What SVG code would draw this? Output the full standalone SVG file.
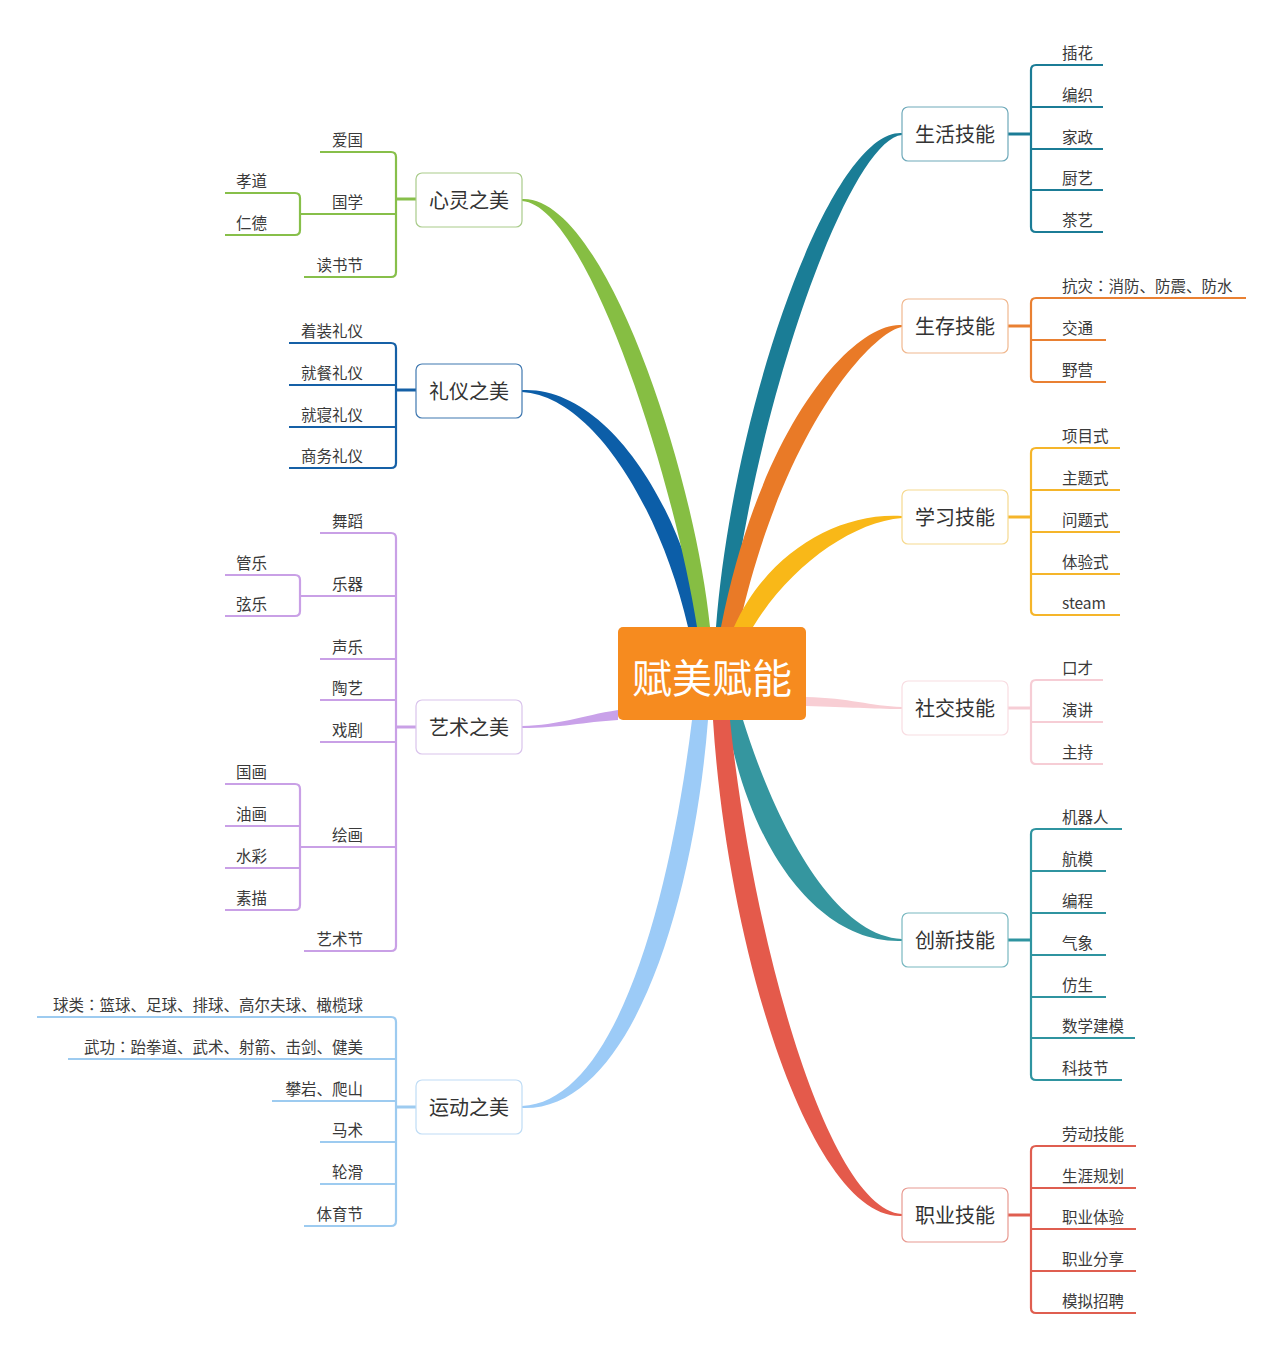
<svg xmlns="http://www.w3.org/2000/svg" width="1280" height="1348" viewBox="0 0 1280 1348">
<style>
.it{font-family:"Noto Sans CJK SC","Noto Sans",sans-serif;font-size:15.5px;fill:#3a3a3a}
.l{text-anchor:end}
.c{font-family:"Noto Sans CJK JP",sans-serif}
.nt{font-family:"Noto Sans CJK SC","Noto Sans",sans-serif;font-size:20px;fill:#333;text-anchor:middle}
.nb{fill:#fff;stroke-width:1.2}
.br{fill:none;stroke-width:2.2;stroke-linecap:butt}
.st{fill:none;stroke-width:3}
</style>
<rect width="1280" height="1348" fill="#fff"/>
<g id="connectors">
  <!-- main branches -->
  <path fill="#0C5EA8" d="M522 390 C604 386 680 500 704 627 L688 627 C660 506 592 396 522 392 Z"/>
  <path fill="#86BE43" d="M522 199 C604 195 694 470 710 627 L697 627 C672 470 586 205 522 201 Z"/>
  <path fill="#1A7D96" d="M902 133 C832 129 734 400 716 627 L730 627 C756 400 850 139 902 135 Z"/>
  <path fill="#E97A27" d="M902 325 C856 321 762 420 721 627 L739 627 C784 425 874 331 902 327 Z"/>
  <path fill="#F9B818" d="M902 516 C836 512 766 555 734 627 L753 627 C790 566 852 522 902 518 Z"/>
  <path fill="#F8CED4" d="M806 697 C850 698 870 706 902 707 L902 709 C870 709 850 707 806 706 Z"/>
  <path fill="#C9A1E9" d="M618 710 C580 716 560 725 522 726 L522 728 C560 728 584 722 618 720 Z"/>
  <path fill="#9CCBF7" d="M692 720 C670 900 616 1102 522 1106 L522 1108 C632 1112 694 900 708 720 Z"/>
  <path fill="#35969F" d="M743 720 C776 826 834 936 902 939 L902 941 C816 944 748 844 727 720 Z"/>
  <path fill="#E45A4B" d="M730 720 C754 950 830 1210 902 1214 L902 1216 C812 1220 728 955 713 720 Z"/>

  <!-- 心灵之美 brackets -->
  <g stroke="#87BF4A">
    <path class="br" d="M320 152 H391 Q396 152 396 157 V272 Q396 277 391 277 H304"/>
    <path class="br" d="M300 214 H396"/>
    <path class="br" d="M225 193 H295 Q300 193 300 198 V230 Q300 235 295 235 H225"/>
    <path class="st" d="M396 199 H416"/>
  </g>
  <!-- 礼仪之美 -->
  <g stroke="#1560A6">
    <path class="br" d="M289 343 H391 Q396 343 396 348 V463 Q396 468 391 468 H289"/>
    <path class="br" d="M289 385 H396 M289 427 H396"/>
    <path class="st" d="M396 390 H416"/>
  </g>
  <!-- 艺术之美 -->
  <g stroke="#C9A0E6">
    <path class="br" d="M320 533 H391 Q396 533 396 538 V946 Q396 951 391 951 H304"/>
    <path class="br" d="M300 596 H396 M320 659 H396 M320 700 H396 M320 742 H396 M300 847 H396"/>
    <path class="br" d="M225 575 H295 Q300 575 300 580 V611 Q300 616 295 616 H225"/>
    <path class="br" d="M225 784 H295 Q300 784 300 789 V905 Q300 910 295 910 H225 M225 826 H300 M225 868 H300"/>
    <path class="st" d="M396 727 H416"/>
  </g>
  <!-- 运动之美 -->
  <g stroke="#9DCBF0">
    <path class="br" d="M37 1017 H391 Q396 1017 396 1022 V1221 Q396 1226 391 1226 H304"/>
    <path class="br" d="M68 1059 H396 M272 1101 H396 M320 1142 H396 M320 1184 H396"/>
    <path class="st" d="M396 1107 H416"/>
  </g>
  <!-- 生活技能 -->
  <g stroke="#1B7C96">
    <path class="br" d="M1103 65 H1036 Q1031 65 1031 70 V227 Q1031 232 1036 232 H1103"/>
    <path class="br" d="M1031 107 H1103 M1031 149 H1103 M1031 190 H1103"/>
    <path class="st" d="M1008 134 H1031"/>
  </g>
  <!-- 生存技能 -->
  <g stroke="#E98032">
    <path class="br" d="M1246 298 H1036 Q1031 298 1031 303 V377 Q1031 382 1036 382 H1106"/>
    <path class="br" d="M1031 340 H1106"/>
    <path class="st" d="M1008 326 H1031"/>
  </g>
  <!-- 学习技能 -->
  <g stroke="#F5B52A">
    <path class="br" d="M1120 448 H1036 Q1031 448 1031 453 V610 Q1031 615 1036 615 H1120"/>
    <path class="br" d="M1031 490 H1120 M1031 532 H1120 M1031 574 H1120"/>
    <path class="st" d="M1008 517 H1031"/>
  </g>
  <!-- 社交技能 -->
  <g stroke="#F6CDD5">
    <path class="br" d="M1103 680 H1036 Q1031 680 1031 685 V759 Q1031 764 1036 764 H1103"/>
    <path class="br" d="M1031 722 H1103"/>
    <path class="st" d="M1008 708 H1031"/>
  </g>
  <!-- 创新技能 -->
  <g stroke="#2F94A0">
    <path class="br" d="M1122 829 H1036 Q1031 829 1031 834 V1075 Q1031 1080 1036 1080 H1122"/>
    <path class="br" d="M1031 871 H1106 M1031 913 H1106 M1031 955 H1106 M1031 997 H1106 M1031 1038 H1135"/>
    <path class="st" d="M1008 940 H1031"/>
  </g>
  <!-- 职业技能 -->
  <g stroke="#DF5E50">
    <path class="br" d="M1136 1146 H1036 Q1031 1146 1031 1151 V1308 Q1031 1313 1036 1313 H1136"/>
    <path class="br" d="M1031 1188 H1136 M1031 1229 H1136 M1031 1271 H1136"/>
    <path class="st" d="M1008 1215 H1031"/>
  </g>
</g>

<!-- center -->
<g id="center">
  <rect x="618" y="627" width="188" height="93" rx="5" fill="#F68B1F"/>
  <text x="712" y="693" font-family="'Noto Sans CJK SC','Noto Sans',sans-serif" font-size="40" fill="#fff" text-anchor="middle">赋美赋能</text>
</g>

<!-- main topic nodes -->
<g id="n-xinling"><rect class="nb" x="416" y="173" width="106" height="54" rx="6" stroke="#A9CB8A"/><text class="nt" x="469" y="207.5">心灵之美</text></g>
<g id="n-liyi"><rect class="nb" x="416" y="364" width="106" height="54" rx="6" stroke="#3F78B0"/><text class="nt" x="469" y="398.5">礼仪之美</text></g>
<g id="n-yishu"><rect class="nb" x="416" y="700" width="106" height="54" rx="6" stroke="#D9C3EC"/><text class="nt" x="469" y="734.5">艺术之美</text></g>
<g id="n-yundong"><rect class="nb" x="416" y="1080" width="106" height="54" rx="6" stroke="#BFDCF5"/><text class="nt" x="469" y="1114.5">运动之美</text></g>
<g id="n-shenghuo"><rect class="nb" x="902" y="107" width="106" height="54" rx="6" stroke="#6EA9BA"/><text class="nt" x="955" y="141.5">生活技能</text></g>
<g id="n-shengcun"><rect class="nb" x="902" y="299" width="106" height="54" rx="6" stroke="#F0B88F"/><text class="nt" x="955" y="333.5">生存技能</text></g>
<g id="n-xuexi"><rect class="nb" x="902" y="490" width="106" height="54" rx="6" stroke="#F6D98F"/><text class="nt" x="955" y="524.5">学习技能</text></g>
<g id="n-shejiao"><rect class="nb" x="902" y="681" width="106" height="54" rx="6" stroke="#F8DDE2"/><text class="nt" x="955" y="715.5">社交技能</text></g>
<g id="n-chuangxin"><rect class="nb" x="902" y="913" width="106" height="54" rx="6" stroke="#79B8C0"/><text class="nt" x="955" y="947.5">创新技能</text></g>
<g id="n-zhiye"><rect class="nb" x="902" y="1188" width="106" height="54" rx="6" stroke="#E89A91"/><text class="nt" x="955" y="1222.5">职业技能</text></g>

<!-- 心灵之美 items -->
<g id="i-aiguo"><text class="it l" x="363" y="146">爱国</text></g>
<g id="i-guoxue"><text class="it l" x="363" y="208">国学</text></g>
<g id="i-dushujie"><text class="it l" x="363" y="271">读书节</text></g>
<g id="i-xiaodao"><text class="it l" x="267" y="187">孝道</text></g>
<g id="i-rende"><text class="it l" x="267" y="229">仁德</text></g>
<!-- 礼仪之美 items -->
<g id="i-zhuozhuang"><text class="it l" x="363" y="337">着装礼仪</text></g>
<g id="i-jiucan"><text class="it l" x="363" y="379">就餐礼仪</text></g>
<g id="i-jiuqin"><text class="it l" x="363" y="421">就寝礼仪</text></g>
<g id="i-shangwu"><text class="it l" x="363" y="462">商务礼仪</text></g>
<!-- 艺术之美 items -->
<g id="i-wudao"><text class="it l" x="363" y="527">舞蹈</text></g>
<g id="i-yueqi"><text class="it l" x="363" y="590">乐器</text></g>
<g id="i-guanyue"><text class="it l" x="267" y="569">管乐</text></g>
<g id="i-xianyue"><text class="it l" x="267" y="610">弦乐</text></g>
<g id="i-shengyue"><text class="it l" x="363" y="653">声乐</text></g>
<g id="i-taoyi"><text class="it l" x="363" y="694">陶艺</text></g>
<g id="i-xiju"><text class="it l" x="363" y="736">戏剧</text></g>
<g id="i-huihua"><text class="it l" x="363" y="841">绘画</text></g>
<g id="i-guohua"><text class="it l" x="267" y="778">国画</text></g>
<g id="i-youhua"><text class="it l" x="267" y="820">油画</text></g>
<g id="i-shuicai"><text class="it l" x="267" y="862">水彩</text></g>
<g id="i-sumiao"><text class="it l" x="267" y="904">素描</text></g>
<g id="i-yishujie"><text class="it l" x="363" y="945">艺术节</text></g>
<!-- 运动之美 items -->
<g id="i-qiulei"><text class="it l" x="363" y="1011">球类<tspan class="c">：</tspan>篮球、足球、排球、高尔夫球、橄榄球</text></g>
<g id="i-wugong"><text class="it l" x="363" y="1053">武功<tspan class="c">：</tspan>跆拳道、武术、射箭、击剑、健美</text></g>
<g id="i-panyan"><text class="it l" x="363" y="1095">攀岩、爬山</text></g>
<g id="i-mashu"><text class="it l" x="363" y="1136">马术</text></g>
<g id="i-lunhua"><text class="it l" x="363" y="1178">轮滑</text></g>
<g id="i-tiyujie"><text class="it l" x="363" y="1220">体育节</text></g>
<!-- 生活技能 items -->
<g id="i-chahua"><text class="it" x="1062" y="59">插花</text></g>
<g id="i-bianzhi"><text class="it" x="1062" y="101">编织</text></g>
<g id="i-jiazheng"><text class="it" x="1062" y="143">家政</text></g>
<g id="i-chuyi"><text class="it" x="1062" y="184">厨艺</text></g>
<g id="i-chayi"><text class="it" x="1062" y="226">茶艺</text></g>
<!-- 生存技能 items -->
<g id="i-kangzai"><text class="it" x="1062" y="292">抗灾<tspan class="c">：</tspan>消防、防震、防水</text></g>
<g id="i-jiaotong"><text class="it" x="1062" y="334">交通</text></g>
<g id="i-yeying"><text class="it" x="1062" y="376">野营</text></g>
<!-- 学习技能 items -->
<g id="i-xiangmu"><text class="it" x="1062" y="442">项目式</text></g>
<g id="i-zhuti"><text class="it" x="1062" y="484">主题式</text></g>
<g id="i-wenti"><text class="it" x="1062" y="526">问题式</text></g>
<g id="i-tiyan"><text class="it" x="1062" y="568">体验式</text></g>
<g id="i-steam"><text class="it" x="1062" y="609">steam</text></g>
<!-- 社交技能 items -->
<g id="i-koucai"><text class="it" x="1062" y="674">口才</text></g>
<g id="i-yanjiang"><text class="it" x="1062" y="716">演讲</text></g>
<g id="i-zhuchi"><text class="it" x="1062" y="758">主持</text></g>
<!-- 创新技能 items -->
<g id="i-jiqiren"><text class="it" x="1062" y="823">机器人</text></g>
<g id="i-hangmo"><text class="it" x="1062" y="865">航模</text></g>
<g id="i-biancheng"><text class="it" x="1062" y="907">编程</text></g>
<g id="i-qixiang"><text class="it" x="1062" y="949">气象</text></g>
<g id="i-fangsheng"><text class="it" x="1062" y="991">仿生</text></g>
<g id="i-shuxue"><text class="it" x="1062" y="1032">数学建模</text></g>
<g id="i-kejijie"><text class="it" x="1062" y="1074">科技节</text></g>
<!-- 职业技能 items -->
<g id="i-laodong"><text class="it" x="1062" y="1140">劳动技能</text></g>
<g id="i-shengya"><text class="it" x="1062" y="1182">生涯规划</text></g>
<g id="i-tiyan2"><text class="it" x="1062" y="1223">职业体验</text></g>
<g id="i-fenxiang"><text class="it" x="1062" y="1265">职业分享</text></g>
<g id="i-moni"><text class="it" x="1062" y="1307">模拟招聘</text></g>
</svg>
